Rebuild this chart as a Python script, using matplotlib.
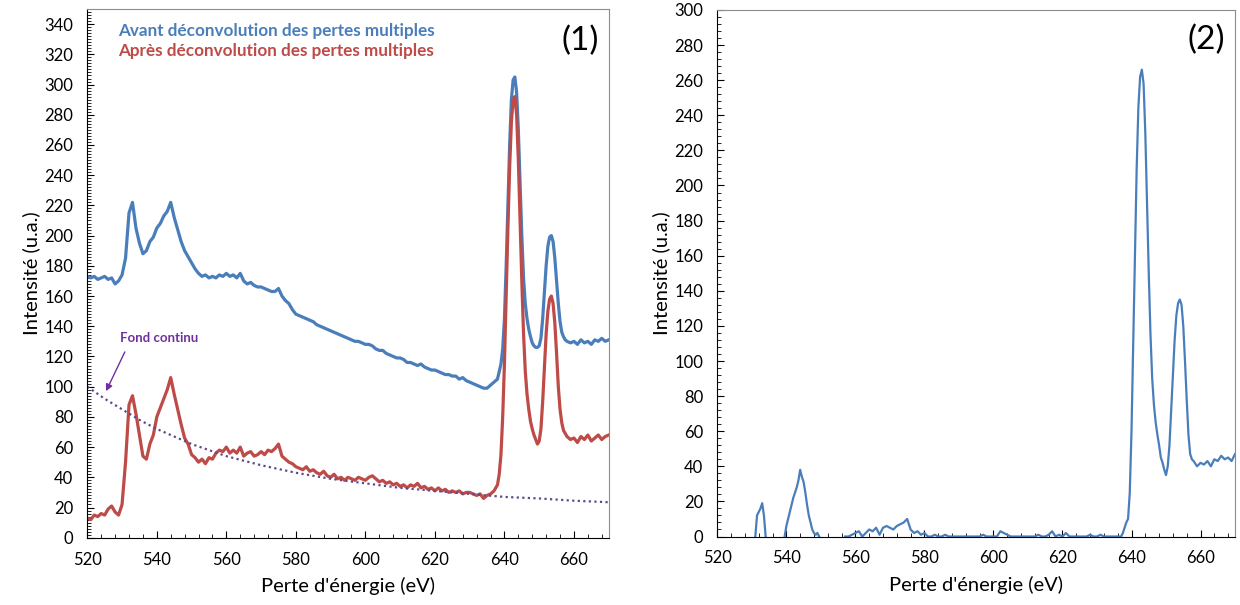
import numpy as np
import matplotlib
matplotlib.use('Agg')
import matplotlib.pyplot as plt
from matplotlib.ticker import MultipleLocator

plt.rcParams['font.family'] = ['Lato', 'DejaVu Sans']

#%% data
# panel (1): spectra before / after deconvolution, 1 eV steps then 0.5 eV over the L2,3 peaks
E_low = list(range(520, 638))
E_peak = [638 + 0.5 * i for i in range(41)]
E_high = list(range(659, 671))
E1 = E_low + E_peak + E_high

blue_low = [173, 172, 173, 171, 172, 173, 171, 172, 168, 170, 174,
            185, 215, 222, 205, 195, 188, 190, 196, 199, 205, 208, 213, 216, 222,
            212, 204, 196, 190, 186, 182, 178, 175, 173, 174, 172, 173, 172, 174,
            173, 175, 173, 174, 172, 175, 170, 168, 169, 167, 166, 166, 165, 164,
            163, 163, 165, 160, 157, 155, 151, 148, 147, 146, 145, 144, 143, 141,
            140, 139, 138, 137, 136, 135, 134, 133, 132, 131, 130, 130, 129, 128,
            128, 127, 125, 124, 124, 122, 121, 120, 119, 119, 118, 116, 116, 115,
            114, 115, 113, 112, 111, 111, 110, 109, 108, 108, 107, 107, 105, 106,
            104, 103, 102, 101, 100, 99, 99, 101, 103]
blue_peak = [105, 110, 115, 125, 145, 180, 220, 260, 290, 303, 305, 295, 270,
             235, 200, 172, 155, 145, 138, 133, 129, 127, 126, 126, 127, 132,
             145, 162, 180, 193, 199, 200, 196, 185, 170, 155, 143, 136, 133,
             131, 130]
blue_high = [129, 130, 128, 131, 129, 130, 128, 131, 130, 132, 130, 131]
avant = blue_low + blue_peak + blue_high

red_low = [13, 12, 15, 14, 16, 15, 19, 21, 17, 15, 22,
           50, 88, 94, 82, 68, 54, 52, 62, 68, 80, 86, 92, 98, 106,
           95, 85, 75, 66, 62, 55, 53, 50, 52, 49, 53, 52, 56, 58,
           57, 60, 56, 58, 56, 60, 54, 56, 57, 54, 55, 57, 55, 58,
           57, 59, 62, 54, 52, 50, 49, 47, 46, 45, 47, 44, 45, 43,
           42, 44, 41, 40, 42, 39, 40, 38, 40, 39, 38, 40, 39, 38,
           40, 41, 39, 37, 38, 36, 37, 35, 36, 34, 35, 33, 35, 34,
           36, 33, 34, 32, 33, 31, 33, 31, 32, 30, 31, 30, 31, 29,
           30, 30, 29, 28, 29, 26, 28, 29, 31]
red_peak = [35, 42, 55, 80, 115, 160, 205, 245, 275, 290, 292, 280, 250,
            210, 170, 135, 110, 95, 85, 77, 72, 68, 65, 62, 64, 72,
            90, 112, 135, 150, 158, 160, 155, 142, 122, 100, 85, 76, 71,
            69, 67]
red_high = [65, 66, 63, 67, 65, 68, 64, 66, 68, 65, 67, 68]
apres = red_low + red_peak + red_high

# continuous background (dotted)
E_fond = [520, 525, 530, 535, 540, 550, 560, 570, 580, 590, 600, 610, 620, 630, 640, 650, 660, 670]
fond = [100, 92, 85, 78, 72, 62, 54, 48, 43, 39, 36, 33, 31, 29, 27, 26, 24.5, 23.5]

# panel (2): signal after background subtraction (gaps where it is below zero)
E2 = [531, 531.5, 532, 532.5, 533, 533.5, 534, np.nan,
      539.5, 540, 540.5, 541, 541.5, 542, 542.5, 543, 543.5, 544, 544.5, 545,
      545.5, 546, 546.5, 547, 547.5, 548, 548.5, 549, 549.5, np.nan] + \
     list(range(557, 637)) + \
     [637 + 0.5 * i for i in range(43)] + list(range(659, 671))
S2 = [0, 12, 14, 16, 19, 12, 0, np.nan,
      0, 6, 10, 14, 18, 22, 25, 28, 32, 38, 34, 31,
      25, 18, 12, 8, 4, 2, 1, 2, 0, np.nan] + \
     [0, 0, 1, 2, 3, 0, 2, 4, 3, 5, 1, 5, 6, 5, 4, 6, 7, 8, 10, 4,
      2, 3, 1, 2, 0, 0, 1, 0, 0, 1, 0, 0, 0, 0, 0, 0, 0, 0, 0, 0,
      1, 0, 0, 0, 0, 3, 2, 1, 0, 0, 0, 0, 0, 0, 0, 0, 1, 0, 0, 1,
      3, 0, 1, 0, 2, 0, 0, 0, 0, 0, 0, 1, 0, 0, 1, 0, 0, 0, 0, 0] + \
     [0, 2, 5, 8, 10, 25, 60, 110, 160, 210, 245, 262, 266, 258, 230,
      190, 150, 115, 90, 75, 65, 58, 52, 45, 42, 38, 35, 40, 52, 72,
      92, 112, 126, 133, 135, 132, 120, 100, 78, 58, 47, 44, 43] + \
     [40, 42, 41, 43, 40, 44, 43, 46, 44, 45, 43, 47]

BLUE = '#4a7ebb'
RED = '#be4b48'
PURPLE = '#7030a0'
DOTS = '#5f4b8b'


#%% figure
def style_axes(ax, ymax, yminor):
    ax.set_xlim(520, 670)
    ax.set_ylim(0, ymax)
    ax.xaxis.set_major_locator(MultipleLocator(20))
    ax.xaxis.set_minor_locator(MultipleLocator(4))
    ax.yaxis.set_major_locator(MultipleLocator(20))
    ax.yaxis.set_minor_locator(MultipleLocator(yminor))
    ax.tick_params(which='both', direction='in', top=False, right=False,
                   labelsize=12, colors='black')
    ax.tick_params(axis='x', which='major', length=5, pad=10)
    ax.tick_params(axis='y', which='major', length=5, pad=10)
    ax.tick_params(which='minor', length=3)
    for side in ['top', 'right']:
        ax.spines[side].set_color('#8c8c8c')
    ax.set_xlabel("Perte d'énergie (eV)", fontsize=14.5, labelpad=7)
    ax.set_ylabel('Intensité (u.a.)', fontsize=14.5, labelpad=3)


fig = plt.figure(figsize=(12.4, 6.05), dpi=100)

ax1 = fig.add_axes([0.0704, 0.1112, 0.4205, 0.8739])
ax1.plot(E1, avant, color=BLUE, lw=2.3)
ax1.plot(E1, apres, color=RED, lw=2.3)
ax1.plot(E_fond, fond, color=DOTS, lw=1.6, linestyle=(0, (1, 1.5)))
style_axes(ax1, 350, 2)
ax1.text(0.059, 0.958, 'Avant déconvolution des pertes multiples', transform=ax1.transAxes,
         color=BLUE, fontsize=12.3, fontweight='bold', va='center', ha='left')
ax1.text(0.059, 0.92, 'Après déconvolution des pertes multiples', transform=ax1.transAxes,
         color=RED, fontsize=12.3, fontweight='bold', va='center', ha='left')
ax1.text(0.945, 0.94, '(1)', transform=ax1.transAxes, fontsize=24, ha='center', va='center')
ax1.text(529.5, 132, 'Fond continu', color=PURPLE, fontsize=9.5, fontweight='bold',
         ha='left', va='center')
ax1.annotate('', xy=(525.4, 97), xytext=(530.8, 123),
             arrowprops=dict(arrowstyle='-|>', color=PURPLE, lw=1, mutation_scale=10,
                             shrinkA=0, shrinkB=0))

ax2 = fig.add_axes([0.5785, 0.1132, 0.4175, 0.8703])
ax2.plot(E2, S2, color=BLUE, lw=1.6)
style_axes(ax2, 300, 4)
ax2.text(0.944, 0.943, '(2)', transform=ax2.transAxes, fontsize=24, ha='center', va='center')

fig.savefig('out.png', dpi=100)
